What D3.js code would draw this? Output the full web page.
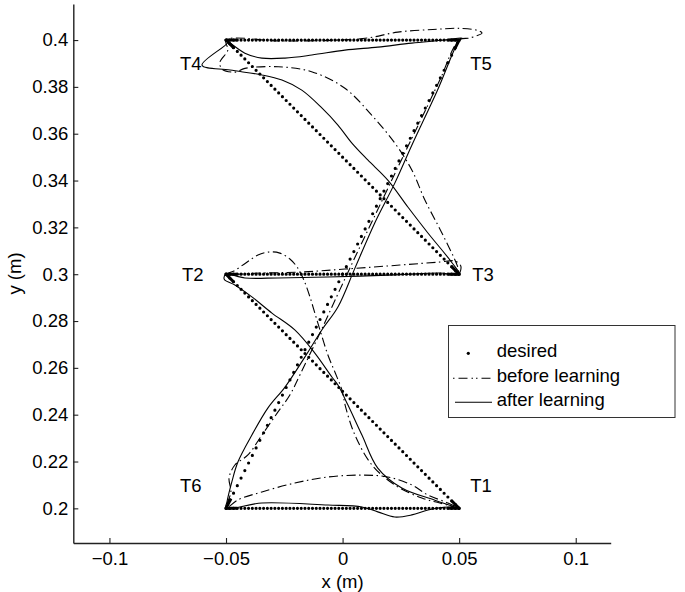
<!DOCTYPE html>
<html>
<head>
<meta charset="utf-8">
<script src="https://cdn.jsdelivr.net/npm/d3@7"></script>
<style>
  html, body { margin: 0; padding: 0; background: #fff; }
  svg { display: block; font-family: "Liberation Sans", Arial, Helvetica, sans-serif; }
</style>
</head>
<body>
<svg id="chart" width="685" height="592"></svg>
<script>
// Target corners of the hexagonal test path, visited T1 -> T2 -> ... -> T6 -> T1
const waypointNames = ["T1", "T2", "T3", "T4", "T5", "T6"];
const waypointX = [0.05, -0.05, 0.05, -0.05, 0.05, -0.05];
const waypointY = [0.2, 0.3, 0.3, 0.4, 0.4, 0.2];
const desiredOrder = [0, 1, 2, 3, 4, 5, 0];

// Measured end-point path before learning (x, y in metres)
const beforeLearning = [
  [0.05, 0.2], [0.0417, 0.2023], [0.034, 0.2044], [0.0224, 0.21], [0.0126, 0.2185],
  [0.0053, 0.2313], [0.0014, 0.2429], [-0.0003, 0.2506], [-0.0033, 0.2582], [-0.0063, 0.2655],
  [-0.0093, 0.2749], [-0.0119, 0.2834], [-0.014, 0.2903], [-0.0166, 0.2975], [-0.0192, 0.3026],
  [-0.0226, 0.3065], [-0.0269, 0.309], [-0.0312, 0.3095], [-0.0363, 0.3082], [-0.0415, 0.3048],
  [-0.0466, 0.3014], [-0.05, 0.3],
  [-0.0354, 0.3005], [-0.0183, 0.3009], [0.001, 0.3022], [0.0246, 0.3039], [0.0417, 0.3052],
  [0.0482, 0.3056], [0.0507, 0.3035], [0.05, 0.3],
  [0.0494, 0.3031], [0.0426, 0.3176], [0.0353, 0.3317], [0.0297, 0.3445], [0.0224, 0.356],
  [0.0124, 0.368], [0.001, 0.3794], [-0.0133, 0.3865], [-0.0276, 0.3886], [-0.0419, 0.3879],
  [-0.0462, 0.3863], [-0.0517, 0.3876], [-0.0526, 0.3906], [-0.0492, 0.3957], [-0.05, 0.4],
  [-0.0269, 0.3996], [-0.0012, 0.4], [0.0109, 0.4009], [0.0237, 0.4034], [0.0387, 0.4045],
  [0.0503, 0.405], [0.058, 0.4041], [0.0598, 0.403], [0.0546, 0.4009], [0.05, 0.4],
  [0.0417, 0.3829], [0.0331, 0.365], [0.0246, 0.3475], [0.016, 0.3295], [0.0074, 0.3116],
  [-0.0012, 0.2933], [-0.0097, 0.2749], [-0.0183, 0.257], [-0.0226, 0.2484], [-0.0277, 0.2412],
  [-0.0346, 0.2313], [-0.0406, 0.2228], [-0.0462, 0.2185], [-0.0487, 0.213], [-0.0479, 0.207],
  [-0.05, 0.2],
  [-0.0449, 0.2036], [-0.0346, 0.207], [-0.0205, 0.2108], [-0.0063, 0.2134], [0.0083, 0.2142],
  [0.0194, 0.2134], [0.0297, 0.21], [0.0366, 0.2057], [0.0452, 0.2023], [0.05, 0.2]
];

// Measured end-point path after learning (x, y in metres)
const afterLearning = [
  [0.05, 0.2], [0.0396, 0.2035], [0.0254, 0.2087], [0.0151, 0.2172], [0.0083, 0.2313],
  [0.0023, 0.2441], [-0.002, 0.2527], [-0.0046, 0.2561], [-0.0119, 0.2663], [-0.0205, 0.2762],
  [-0.0303, 0.2834], [-0.0389, 0.2903], [-0.0462, 0.2954], [-0.0505, 0.2975], [-0.0509, 0.2984],
  [-0.05, 0.3],
  [-0.0419, 0.2984], [-0.0278, 0.2984], [-0.0063, 0.2988], [0.0224, 0.2997], [0.0417, 0.3005],
  [0.05, 0.3],
  [0.047, 0.3048], [0.0366, 0.3176], [0.028, 0.3287], [0.0194, 0.3402], [0.0108, 0.3488],
  [0.004, 0.356], [-0.002, 0.3637], [-0.0089, 0.371], [-0.0175, 0.3786], [-0.026, 0.3829],
  [-0.0346, 0.3851], [-0.0483, 0.3872], [-0.0603, 0.3893], [-0.0492, 0.3991], [-0.05, 0.4],
  [-0.0419, 0.3944], [-0.0346, 0.3923], [-0.0247, 0.3923], [-0.0132, 0.3936], [0.001, 0.3957],
  [0.0151, 0.397], [0.0297, 0.3987], [0.0439, 0.4], [0.0512, 0.4009], [0.05, 0.4],
  [0.0407, 0.3786], [0.0297, 0.3551], [0.0224, 0.3389], [0.0138, 0.3219], [0.0053, 0.3026],
  [-0.002, 0.286], [-0.0089, 0.2762], [-0.0162, 0.2646], [-0.0247, 0.2518], [-0.032, 0.2429],
  [-0.0389, 0.2313], [-0.0449, 0.2198], [-0.0475, 0.2113], [-0.0496, 0.2027], [-0.05, 0.2],
  [-0.0346, 0.2023], [-0.0063, 0.2014], [0.0083, 0.2006], [0.0151, 0.1985], [0.0224, 0.1963],
  [0.0297, 0.1972], [0.0366, 0.1993], [0.0452, 0.2006], [0.05, 0.2]
];

const xTicks = [-0.1, -0.05, 0, 0.05, 0.1];
const yTicks = [0.2, 0.22, 0.24, 0.26, 0.28, 0.3, 0.32, 0.34, 0.36, 0.38, 0.4];
const xTitle = "x (m)";
const yTitle = "y (m)";
const legendLabels = ["desired", "before learning", "after learning"];

// ---------------------------------------------------------------------------
const svg = d3.select("#chart");
const FONT = 18.5;
const dashDot = "9,3.5,1.5,3.5";

const x = d3.scaleLinear().domain([-0.1155, 0.115]).range([73.3, 610.7]);
const y = d3.scaleLinear().domain([0.1852, 0.4154]).range([543, 4]);

// Axes with inward ticks, left and bottom only
const xAxis = d3.axisBottom(x).tickValues(xTicks).tickFormat(d3.format(""))
  .tickSizeInner(-5).tickSizeOuter(0).tickPadding(9);
const yAxis = d3.axisLeft(y).tickValues(yTicks).tickFormat(d3.format(""))
  .tickSizeInner(-5).tickSizeOuter(0).tickPadding(5);

const gx = svg.append("g").attr("transform", `translate(0,${y.range()[0]})`).call(xAxis);
const gy = svg.append("g").attr("transform", `translate(${x.range()[0]},0)`).call(yAxis);
[gx, gy].forEach(g => {
  g.select(".domain").attr("stroke", "#222").attr("stroke-width", 1.4);
  g.selectAll(".tick line").attr("stroke", "#222").attr("stroke-width", 1.1);
  g.selectAll(".tick text").attr("fill", "#000").attr("font-size", FONT)
    .attr("font-family", "Liberation Sans, Arial, Helvetica, sans-serif");
});

svg.append("text").attr("x", x(0)).attr("y", 588).attr("text-anchor", "middle")
  .attr("font-size", FONT).text(xTitle);
svg.append("text").attr("transform", `translate(21,${(y.range()[0] + y.range()[1]) / 2}) rotate(-90)`)
  .attr("text-anchor", "middle").attr("font-size", FONT).text(yTitle);

const plot = svg.append("g");

// Desired path: one dotted stroke per leg, with the dots merging near each corner
const corners = desiredOrder.map(i => [waypointX[i], waypointY[i]]);
const seg = d3.line().x(d => x(d[0])).y(d => y(d[1]));
for (let k = 0; k < corners.length - 1; k++) {
  const pair = [corners[k], corners[k + 1]];
  const p = plot.append("path").attr("d", seg(pair)).attr("fill", "none")
    .attr("stroke", "#000").attr("stroke-linecap", "round").attr("stroke-width", 3.2);
  const L = p.node().getTotalLength();
  const gap = L / 62;
  p.attr("stroke-dasharray", `0,${gap.toFixed(3)}`);
  const a = 11;
  plot.append("path").attr("d", seg(pair)).attr("fill", "none")
    .attr("stroke", "#000").attr("stroke-width", 3)
    .attr("stroke-dasharray", `${a},${(L - 2 * a).toFixed(2)},${a}`);
}

const curve = d3.line().x(d => x(d[0])).y(d => y(d[1])).curve(d3.curveCatmullRom.alpha(0.5));

plot.append("path").datum(beforeLearning).attr("d", curve).attr("fill", "none")
  .attr("stroke", "#000").attr("stroke-width", 1.1).attr("stroke-dasharray", dashDot);

plot.append("path").datum(afterLearning).attr("d", curve).attr("fill", "none")
  .attr("stroke", "#000").attr("stroke-width", 1.1);

// Corner labels
const labelOffset = { T1: [11, -16], T2: [-44, 7], T3: [13, 7], T4: [-46, 30], T5: [11, 30], T6: [-46, -16] };
waypointNames.forEach((name, i) => {
  svg.append("text").attr("x", x(waypointX[i]) + labelOffset[name][0])
    .attr("y", y(waypointY[i]) + labelOffset[name][1])
    .attr("font-size", FONT).text(name);
});

// Legend
const lg = svg.append("g");
lg.append("rect").attr("x", 448.5).attr("y", 325.5).attr("width", 226.5).attr("height", 92)
  .attr("fill", "#fff").attr("stroke", "#333").attr("stroke-width", 1);
const rowY = [353.3, 378.3, 402.3];
lg.append("circle").attr("cx", 468.3).attr("cy", rowY[0]).attr("r", 1.6).attr("fill", "#000");
lg.append("line").attr("x1", 453).attr("x2", 493).attr("y1", rowY[1]).attr("y2", rowY[1])
  .attr("stroke", "#000").attr("stroke-width", 1.1).attr("stroke-dasharray", "1.5,4,9,4,1.5,3");
lg.append("line").attr("x1", 455).attr("x2", 492).attr("y1", rowY[2]).attr("y2", rowY[2])
  .attr("stroke", "#000").attr("stroke-width", 1.1);
legendLabels.forEach((t, i) => {
  lg.append("text").attr("x", 496.7).attr("y", rowY[i] + 4).attr("font-size", FONT).text(t);
});
</script>
</body>
</html>
